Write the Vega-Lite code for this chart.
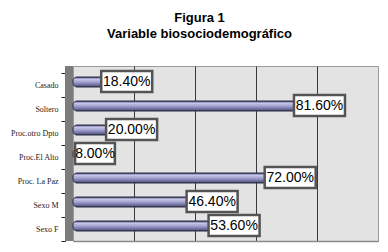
{
  "$schema": "https://vega.github.io/schema/vega-lite/v6.json",
  "width": 305,
  "height": 175,
  "autosize": "none",
  "padding": {"left": 73, "top": 66, "right": 10, "bottom": 11},
  "background": "white",
  "title": {
    "text": ["Figura 1", "Variable biosociodemográfico"],
    "font": "Liberation Sans",
    "fontWeight": "bold",
    "fontSize": 13,
    "color": "#000000",
    "anchor": "middle",
    "dx": -26,
    "offset": 21,
    "lineHeight": 16
  },
  "config": {
    "view": {"fill": "#e3e3e3", "stroke": "#9a9a9a", "strokeWidth": 1}
  },
  "data": {
    "values": [
      {"cat": "Casado", "pct": 0.184},
      {"cat": "Soltero", "pct": 0.816},
      {"cat": "Proc.otro Dpto", "pct": 0.20},
      {"cat": "Proc.El Alto", "pct": 0.08},
      {"cat": "Proc. La Paz", "pct": 0.72},
      {"cat": "Sexo M", "pct": 0.464},
      {"cat": "Sexo F", "pct": 0.536}
    ]
  },
  "encoding": {
    "x": {
      "field": "pct",
      "type": "quantitative",
      "scale": {"domain": [0, 1], "nice": false},
      "axis": {
        "title": null,
        "values": [0.2, 0.4, 0.6, 0.8],
        "labels": false,
        "ticks": false,
        "grid": true,
        "gridColor": "#3a3a3a",
        "gridWidth": 1,
        "domain": true,
        "domainColor": "#8a8a8a",
        "domainWidth": 1.5
      }
    },
    "y": {
      "field": "cat",
      "type": "nominal",
      "sort": null,
      "scale": {"paddingInner": 0, "paddingOuter": 0.146, "align": 1},
      "axis": {
        "title": null,
        "offset": 8,
        "domainColor": "#222222",
        "domainWidth": 1,
        "tickBand": "extent",
        "tickColor": "#222222",
        "tickSize": 4,
        "labelPadding": 3,
        "labelFont": "Liberation Serif",
        "labelFontSize": 8,
        "labelColor": "#1a1a1a"
      }
    }
  },
  "layer": [
    {
      "mark": {"type": "rule", "xOffset": -4, "strokeWidth": 8, "color": "#7c7c7c"},
      "encoding": {"x": {"datum": 0}, "y": null}
    },
    {
      "mark": {
        "type": "bar",
        "height": 10,
        "yOffset": -3,
        "xOffset": -5,
        "cornerRadius": 4,
        "stroke": "#2e2e48",
        "strokeWidth": 1,
        "fill": {
          "gradient": "linear",
          "x1": 0, "y1": 0, "x2": 0, "y2": 1,
          "stops": [
            {"offset": 0, "color": "#6a6a94"},
            {"offset": 0.25, "color": "#c4c4e6"},
            {"offset": 0.55, "color": "#9a9acb"},
            {"offset": 1, "color": "#4a4a70"}
          ]
        }
      }
    },
    {
      "mark": {
        "type": "point",
        "filled": true,
        "fill": "#ffffff",
        "opacity": 1,
        "fillOpacity": 1,
        "stroke": "#545454",
        "strokeWidth": 2.5,
        "size": 2601,
        "xOffset": -2.4,
        "yOffset": -3.5
      },
      "encoding": {
        "shape": {
          "condition": {"test": "datum.pct < 0.1", "value": "M-0.78,-0.41H0.78V0.41H-0.78Z"},
          "value": "M-1,-0.41H1V0.41H-1Z"
        }
      }
    },
    {
      "mark": {
        "type": "text",
        "font": "Liberation Sans",
        "fontSize": 14,
        "color": "#000000",
        "align": "center",
        "baseline": "middle",
        "xOffset": -2.4,
        "yOffset": -3
      },
      "encoding": {
        "text": {"field": "pct", "type": "quantitative", "format": ".2%"}
      }
    }
  ]
}
